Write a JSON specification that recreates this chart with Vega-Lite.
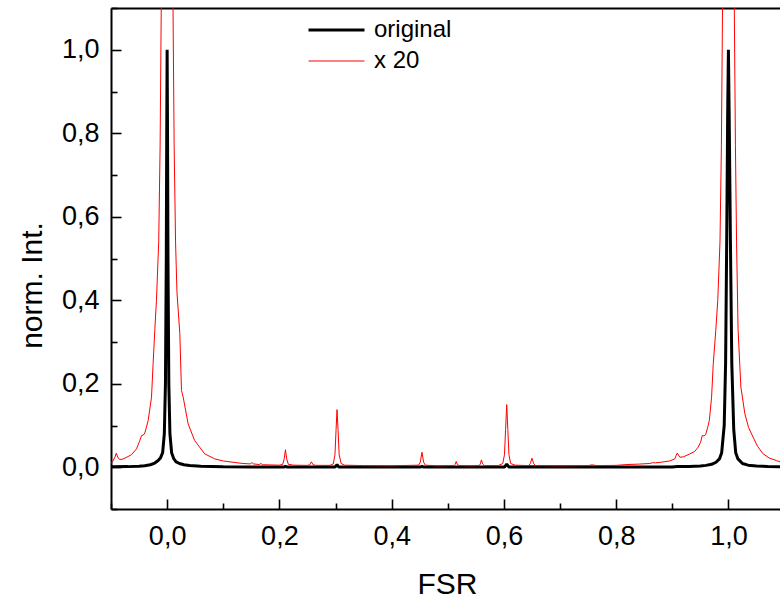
{
"$schema": "https://vega.github.io/schema/vega-lite/v6.json",
"width": 669,
"height": 501,
"padding": {"left": 111, "top": 8, "right": 0, "bottom": 89},
"autosize": {"type": "none"},
"background": "white",
"config": {"view": {"stroke": null}, "font": "Liberation Sans"},
"data": {"values": [
{"s":"original","fsr":-0.1,"v":0.001},
{"s":"original","fsr":-0.07,"v":0.0015},
{"s":"original","fsr":-0.05,"v":0.0025},
{"s":"original","fsr":-0.04,"v":0.0035},
{"s":"original","fsr":-0.03,"v":0.006},
{"s":"original","fsr":-0.022,"v":0.01},
{"s":"original","fsr":-0.016,"v":0.016},
{"s":"original","fsr":-0.012,"v":0.022},
{"s":"original","fsr":-0.008,"v":0.035},
{"s":"original","fsr":-0.005,"v":0.08},
{"s":"original","fsr":-0.003,"v":0.2},
{"s":"original","fsr":-0.0015,"v":0.5},
{"s":"original","fsr":-0.0007,"v":0.8},
{"s":"original","fsr":0,"v":1.0},
{"s":"original","fsr":0.0007,"v":0.8},
{"s":"original","fsr":0.0015,"v":0.5},
{"s":"original","fsr":0.003,"v":0.2},
{"s":"original","fsr":0.005,"v":0.08},
{"s":"original","fsr":0.008,"v":0.035},
{"s":"original","fsr":0.012,"v":0.02},
{"s":"original","fsr":0.016,"v":0.013},
{"s":"original","fsr":0.022,"v":0.009},
{"s":"original","fsr":0.03,"v":0.006},
{"s":"original","fsr":0.04,"v":0.004},
{"s":"original","fsr":0.06,"v":0.0025},
{"s":"original","fsr":0.1,"v":0.0012},
{"s":"original","fsr":0.15,"v":0.0007},
{"s":"original","fsr":0.208,"v":0.0004},
{"s":"original","fsr":0.2108,"v":0.002},
{"s":"original","fsr":0.214,"v":0.0004},
{"s":"original","fsr":0.299,"v":0.0004},
{"s":"original","fsr":0.3027,"v":0.006},
{"s":"original","fsr":0.306,"v":0.0004},
{"s":"original","fsr":0.45,"v":0.0004},
{"s":"original","fsr":0.454,"v":0.0018},
{"s":"original","fsr":0.458,"v":0.0004},
{"s":"original","fsr":0.601,"v":0.0004},
{"s":"original","fsr":0.605,"v":0.0075},
{"s":"original","fsr":0.609,"v":0.0004},
{"s":"original","fsr":0.65,"v":0.001},
{"s":"original","fsr":0.8,"v":0.0005},
{"s":"original","fsr":0.9,"v":0.0008},
{"s":"original","fsr":0.9087,"v":0.0017},
{"s":"original","fsr":0.93,"v":0.0016},
{"s":"original","fsr":0.95,"v":0.003},
{"s":"original","fsr":0.96,"v":0.0045},
{"s":"original","fsr":0.97,"v":0.007},
{"s":"original","fsr":0.978,"v":0.012},
{"s":"original","fsr":0.984,"v":0.02},
{"s":"original","fsr":0.988,"v":0.035},
{"s":"original","fsr":0.9925,"v":0.1},
{"s":"original","fsr":0.995,"v":0.25},
{"s":"original","fsr":0.997,"v":0.55},
{"s":"original","fsr":0.9987,"v":0.85},
{"s":"original","fsr":1.0,"v":1.0},
{"s":"original","fsr":1.0013,"v":0.85},
{"s":"original","fsr":1.0035,"v":0.55},
{"s":"original","fsr":1.006,"v":0.25},
{"s":"original","fsr":1.0095,"v":0.09},
{"s":"original","fsr":1.013,"v":0.035},
{"s":"original","fsr":1.017,"v":0.02},
{"s":"original","fsr":1.025,"v":0.009},
{"s":"original","fsr":1.035,"v":0.005},
{"s":"original","fsr":1.05,"v":0.003},
{"s":"original","fsr":1.07,"v":0.0018},
{"s":"original","fsr":1.0919,"v":0.001},
{"s":"x 20","fsr":-0.1,"v":0.009},
{"s":"x 20","fsr":-0.097,"v":0.014},
{"s":"x 20","fsr":-0.093,"v":0.024},
{"s":"x 20","fsr":-0.0905,"v":0.034},
{"s":"x 20","fsr":-0.088,"v":0.024},
{"s":"x 20","fsr":-0.085,"v":0.019},
{"s":"x 20","fsr":-0.08,"v":0.019},
{"s":"x 20","fsr":-0.075,"v":0.022},
{"s":"x 20","fsr":-0.0635,"v":0.03},
{"s":"x 20","fsr":-0.0545,"v":0.044},
{"s":"x 20","fsr":-0.0487,"v":0.064},
{"s":"x 20","fsr":-0.0456,"v":0.076},
{"s":"x 20","fsr":-0.0425,"v":0.077},
{"s":"x 20","fsr":-0.0397,"v":0.082},
{"s":"x 20","fsr":-0.0338,"v":0.112},
{"s":"x 20","fsr":-0.0278,"v":0.168},
{"s":"x 20","fsr":-0.025,"v":0.248},
{"s":"x 20","fsr":-0.0219,"v":0.33},
{"s":"x 20","fsr":-0.019,"v":0.4},
{"s":"x 20","fsr":-0.015,"v":0.54},
{"s":"x 20","fsr":-0.0125,"v":0.77},
{"s":"x 20","fsr":-0.0105,"v":1.1},
{"s":"x 20","fsr":-0.008,"v":1.8},
{"s":"x 20","fsr":-0.005,"v":4},
{"s":"x 20","fsr":0,"v":20},
{"s":"x 20","fsr":0.005,"v":4},
{"s":"x 20","fsr":0.008,"v":1.8},
{"s":"x 20","fsr":0.0105,"v":1.1},
{"s":"x 20","fsr":0.0125,"v":0.77},
{"s":"x 20","fsr":0.015,"v":0.54},
{"s":"x 20","fsr":0.0175,"v":0.42},
{"s":"x 20","fsr":0.0226,"v":0.32},
{"s":"x 20","fsr":0.0256,"v":0.184},
{"s":"x 20","fsr":0.0286,"v":0.168},
{"s":"x 20","fsr":0.0374,"v":0.104},
{"s":"x 20","fsr":0.049,"v":0.064},
{"s":"x 20","fsr":0.067,"v":0.032},
{"s":"x 20","fsr":0.085,"v":0.02},
{"s":"x 20","fsr":0.1,"v":0.015},
{"s":"x 20","fsr":0.1175,"v":0.012},
{"s":"x 20","fsr":0.135,"v":0.009},
{"s":"x 20","fsr":0.148,"v":0.008},
{"s":"x 20","fsr":0.151,"v":0.011},
{"s":"x 20","fsr":0.154,"v":0.008},
{"s":"x 20","fsr":0.164,"v":0.0065},
{"s":"x 20","fsr":0.167,"v":0.009},
{"s":"x 20","fsr":0.17,"v":0.006},
{"s":"x 20","fsr":0.185,"v":0.0055},
{"s":"x 20","fsr":0.2,"v":0.005},
{"s":"x 20","fsr":0.206,"v":0.007},
{"s":"x 20","fsr":0.2085,"v":0.02},
{"s":"x 20","fsr":0.2108,"v":0.042},
{"s":"x 20","fsr":0.213,"v":0.02},
{"s":"x 20","fsr":0.216,"v":0.007},
{"s":"x 20","fsr":0.225,"v":0.005},
{"s":"x 20","fsr":0.25,"v":0.0045},
{"s":"x 20","fsr":0.254,"v":0.006},
{"s":"x 20","fsr":0.257,"v":0.013},
{"s":"x 20","fsr":0.26,"v":0.006},
{"s":"x 20","fsr":0.265,"v":0.0045},
{"s":"x 20","fsr":0.29,"v":0.0045},
{"s":"x 20","fsr":0.296,"v":0.008},
{"s":"x 20","fsr":0.299,"v":0.03},
{"s":"x 20","fsr":0.301,"v":0.09},
{"s":"x 20","fsr":0.3027,"v":0.138},
{"s":"x 20","fsr":0.3045,"v":0.09},
{"s":"x 20","fsr":0.3065,"v":0.03},
{"s":"x 20","fsr":0.31,"v":0.009},
{"s":"x 20","fsr":0.316,"v":0.005},
{"s":"x 20","fsr":0.35,"v":0.004},
{"s":"x 20","fsr":0.4,"v":0.0035},
{"s":"x 20","fsr":0.448,"v":0.005},
{"s":"x 20","fsr":0.451,"v":0.012},
{"s":"x 20","fsr":0.454,"v":0.036},
{"s":"x 20","fsr":0.457,"v":0.012},
{"s":"x 20","fsr":0.46,"v":0.005},
{"s":"x 20","fsr":0.48,"v":0.0035},
{"s":"x 20","fsr":0.511,"v":0.004},
{"s":"x 20","fsr":0.513,"v":0.007},
{"s":"x 20","fsr":0.515,"v":0.0137},
{"s":"x 20","fsr":0.517,"v":0.007},
{"s":"x 20","fsr":0.52,"v":0.004},
{"s":"x 20","fsr":0.54,"v":0.0035},
{"s":"x 20","fsr":0.556,"v":0.004},
{"s":"x 20","fsr":0.558,"v":0.008},
{"s":"x 20","fsr":0.56,"v":0.0177},
{"s":"x 20","fsr":0.562,"v":0.008},
{"s":"x 20","fsr":0.565,"v":0.004},
{"s":"x 20","fsr":0.59,"v":0.004},
{"s":"x 20","fsr":0.598,"v":0.009},
{"s":"x 20","fsr":0.601,"v":0.03},
{"s":"x 20","fsr":0.603,"v":0.09},
{"s":"x 20","fsr":0.605,"v":0.15},
{"s":"x 20","fsr":0.607,"v":0.09},
{"s":"x 20","fsr":0.609,"v":0.03},
{"s":"x 20","fsr":0.612,"v":0.009},
{"s":"x 20","fsr":0.62,"v":0.005},
{"s":"x 20","fsr":0.644,"v":0.004},
{"s":"x 20","fsr":0.647,"v":0.009},
{"s":"x 20","fsr":0.65,"v":0.0217},
{"s":"x 20","fsr":0.653,"v":0.009},
{"s":"x 20","fsr":0.656,"v":0.004},
{"s":"x 20","fsr":0.7,"v":0.0035},
{"s":"x 20","fsr":0.75,"v":0.004},
{"s":"x 20","fsr":0.757,"v":0.0057},
{"s":"x 20","fsr":0.765,"v":0.004},
{"s":"x 20","fsr":0.8,"v":0.0045},
{"s":"x 20","fsr":0.819,"v":0.0065},
{"s":"x 20","fsr":0.84,"v":0.0075},
{"s":"x 20","fsr":0.86,"v":0.009},
{"s":"x 20","fsr":0.865,"v":0.011},
{"s":"x 20","fsr":0.87,"v":0.0105},
{"s":"x 20","fsr":0.88,"v":0.012},
{"s":"x 20","fsr":0.895,"v":0.015},
{"s":"x 20","fsr":0.9045,"v":0.02},
{"s":"x 20","fsr":0.9087,"v":0.034},
{"s":"x 20","fsr":0.9135,"v":0.024},
{"s":"x 20","fsr":0.92,"v":0.025},
{"s":"x 20","fsr":0.9313,"v":0.032},
{"s":"x 20","fsr":0.94,"v":0.038},
{"s":"x 20","fsr":0.946,"v":0.048},
{"s":"x 20","fsr":0.9505,"v":0.06},
{"s":"x 20","fsr":0.9534,"v":0.076},
{"s":"x 20","fsr":0.9565,"v":0.075},
{"s":"x 20","fsr":0.9594,"v":0.078},
{"s":"x 20","fsr":0.963,"v":0.095},
{"s":"x 20","fsr":0.966,"v":0.112},
{"s":"x 20","fsr":0.97,"v":0.168},
{"s":"x 20","fsr":0.973,"v":0.248},
{"s":"x 20","fsr":0.9775,"v":0.328},
{"s":"x 20","fsr":0.981,"v":0.4},
{"s":"x 20","fsr":0.985,"v":0.54},
{"s":"x 20","fsr":0.9875,"v":0.77},
{"s":"x 20","fsr":0.9895,"v":1.1},
{"s":"x 20","fsr":0.992,"v":1.8},
{"s":"x 20","fsr":0.995,"v":4},
{"s":"x 20","fsr":1.0,"v":20},
{"s":"x 20","fsr":1.005,"v":4},
{"s":"x 20","fsr":1.008,"v":1.8},
{"s":"x 20","fsr":1.0105,"v":1.1},
{"s":"x 20","fsr":1.0125,"v":0.77},
{"s":"x 20","fsr":1.0145,"v":0.54},
{"s":"x 20","fsr":1.0172,"v":0.33},
{"s":"x 20","fsr":1.0222,"v":0.192},
{"s":"x 20","fsr":1.0293,"v":0.128},
{"s":"x 20","fsr":1.036,"v":0.095},
{"s":"x 20","fsr":1.044,"v":0.072},
{"s":"x 20","fsr":1.052,"v":0.05},
{"s":"x 20","fsr":1.0618,"v":0.032},
{"s":"x 20","fsr":1.073,"v":0.022},
{"s":"x 20","fsr":1.0855,"v":0.016},
{"s":"x 20","fsr":1.0919,"v":0.013}
]},
"mark": {"type": "line", "clip": true, "strokeJoin": "bevel"},
"encoding": {
  "x": {"field": "fsr", "type": "quantitative",
    "scale": {"domain": [-0.1, 1.0919], "nice": false, "zero": false},
    "axis": {
      "values": [-0.1, 0, 0.1, 0.2, 0.3, 0.4, 0.5, 0.6, 0.7, 0.8, 0.9, 1.0],
      "labelExpr": "abs(datum.value*5 - round(datum.value*5)) < 0.01 && datum.value > -0.05 ? replace(format(datum.value, '.1f'), '.', ',') : ''",
      "tickSize": {"condition": {"test": "abs(datum.value*5 - round(datum.value*5)) < 0.01", "value": -10}, "value": -6},
      "tickWidth": 1.6, "tickColor": "black",
      "domainColor": "black", "domainWidth": 2,
      "grid": false,
      "labelFontSize": 27, "labelFont": "Liberation Sans", "labelColor": "black",
      "labelPadding": 24, "labelBaseline": "top", "labelAlign": "center",
      "labelFlush": false, "labelOverlap": false, "labelBound": false,
      "title": "FSR", "titleFontSize": 30, "titleFont": "Liberation Sans", "titleFontWeight": "normal", "titleColor": "black",
      "titleX": 336, "titleY": 84, "titleAlign": "center", "titleBaseline": "alphabetic", "titleAngle": 0
    }
  },
  "y": {"field": "v", "type": "quantitative",
    "scale": {"domain": [-0.1, 1.1], "nice": false, "zero": false},
    "axis": {
      "values": [-0.1, 0, 0.1, 0.2, 0.3, 0.4, 0.5, 0.6, 0.7, 0.8, 0.9, 1.0, 1.1],
      "labelExpr": "abs(datum.value*5 - round(datum.value*5)) < 0.01 && datum.value > -0.05 && datum.value < 1.05 ? replace(format(datum.value, '.1f'), '.', ',') : ''",
      "tickSize": {"condition": {"test": "abs(datum.value*5 - round(datum.value*5)) < 0.01", "value": -10}, "value": -6},
      "tickWidth": 1.6, "tickColor": "black",
      "domainColor": "black", "domainWidth": 2,
      "grid": true, "gridColor": "black", "gridWidth": 2,
      "gridOpacity": {"condition": {"test": "datum.value > 1.05", "value": 1}, "value": 0},
      "labelFontSize": 27, "labelFont": "Liberation Sans", "labelColor": "black",
      "labelPadding": 22, "labelBaseline": "middle", "labelAlign": "right",
      "labelFlush": false, "labelOverlap": false, "labelBound": false,
      "title": "norm. Int.", "titleFontSize": 30, "titleFont": "Liberation Sans", "titleFontWeight": "normal", "titleColor": "black",
      "titleX": -70, "titleY": 277, "titleAlign": "center", "titleBaseline": "alphabetic", "titleAngle": 270
    }
  },
  "color": {"field": "s", "type": "nominal",
    "scale": {"domain": ["original", "x 20"], "range": ["#000000", "#ff0000"]},
    "legend": {"orient": "none", "legendX": 196, "legendY": 10, "title": null,
      "symbolType": "stroke", "symbolSize": 3136, "clipHeight": 24, "rowPadding": 7,
      "labelFontSize": 24, "labelFont": "Liberation Sans", "labelColor": "black", "labelOffset": 8, "padding": 0}
  },
  "strokeWidth": {"field": "s", "type": "nominal",
    "scale": {"domain": ["original", "x 20"], "range": [3, 1]},
    "legend": {"orient": "none", "legendX": 196, "legendY": 10, "title": null,
      "symbolType": "stroke", "symbolSize": 3136, "clipHeight": 24, "rowPadding": 7,
      "labelFontSize": 24, "labelFont": "Liberation Sans", "labelColor": "black", "labelOffset": 8, "padding": 0}
  }
}
}
